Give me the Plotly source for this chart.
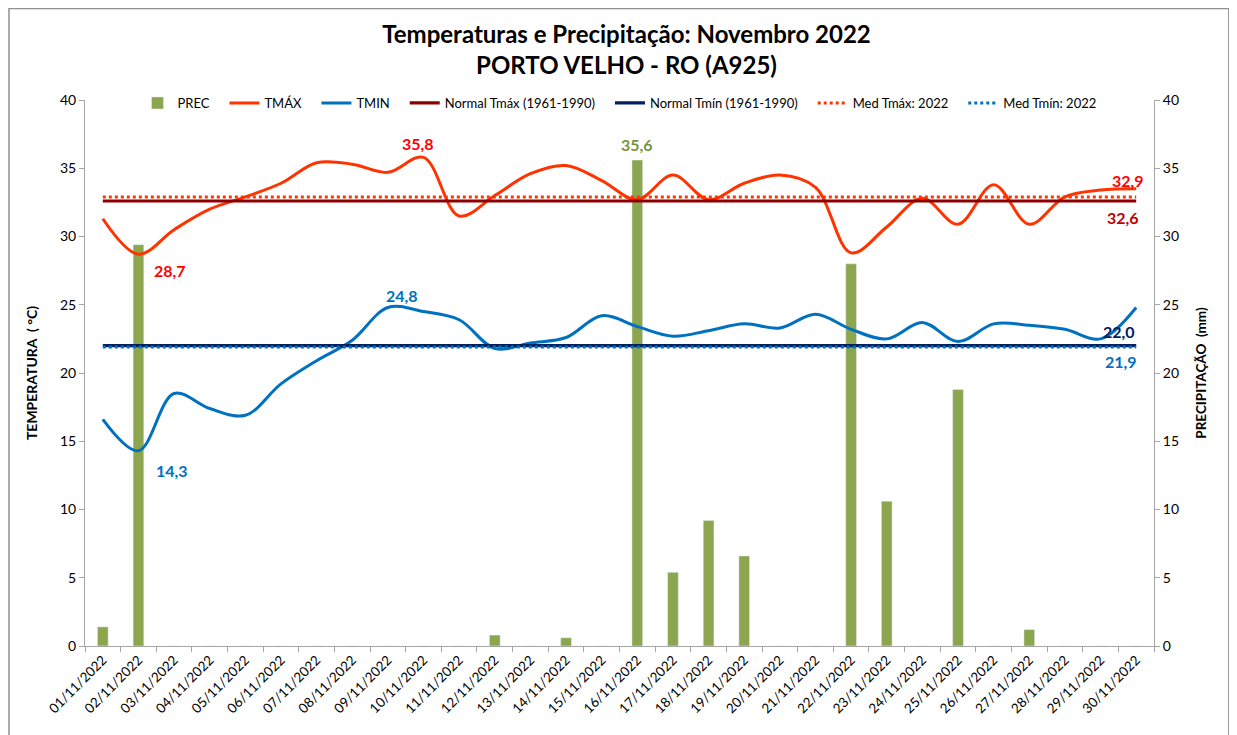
import plotly.graph_objects as go

dias = [f"{d:02d}/11/2022" for d in range(1, 31)]

tmax = [31.3, 28.7, 30.5, 32.0, 32.9, 33.9, 35.4, 35.3, 34.7, 35.8,
        31.5, 33.0, 34.6, 35.2, 34.1, 32.7, 34.5, 32.7, 33.9, 34.5,
        33.6, 28.8, 30.7, 32.8, 30.9, 33.8, 30.9, 32.9, 33.4, 33.5]
tmin = [16.6, 14.3, 18.5, 17.4, 16.9, 19.2, 20.9, 22.4, 24.8, 24.5,
        23.9, 21.8, 22.2, 22.6, 24.2, 23.4, 22.7, 23.1, 23.6, 23.3,
        24.3, 23.2, 22.5, 23.7, 22.3, 23.6, 23.5, 23.2, 22.5, 24.8]
prec = [1.4, 29.4, 0, 0, 0, 0, 0, 0, 0, 0,
        0, 0.8, 0, 0.6, 0, 35.6, 5.4, 9.2, 6.6, 0,
        0, 28.0, 10.6, 0, 18.8, 0, 1.2, 0, 0, 0]
normal_tmax = 32.6
normal_tmin = 22.0
med_tmax = 32.9
med_tmin = 21.9

C_PREC = "#8BA64E"
C_TMAX = "#FF3300"
C_TMIN = "#0070C0"
C_NTMAX = "#8B0000"
C_NTMIN = "#002060"
FONT = "Lato"
PAD = "\u00a0" * 3

fig = go.Figure()
fig.add_trace(go.Bar(x=dias, y=prec, name="PREC" + PAD, marker_color=C_PREC,
                     width=0.3, yaxis="y"))
fig.add_trace(go.Scatter(x=dias, y=tmax, name="TMÁX" + PAD, mode="lines",
                         line=dict(color=C_TMAX, width=3, shape="spline"), yaxis="y2"))
fig.add_trace(go.Scatter(x=dias, y=tmin, name="TMIN" + PAD, mode="lines",
                         line=dict(color=C_TMIN, width=3, shape="spline"), yaxis="y2"))
fig.add_trace(go.Scatter(x=dias, y=[normal_tmax] * len(dias), name="Normal Tmáx (1961-1990)" + PAD,
                         mode="lines", line=dict(color=C_NTMAX, width=3.2), yaxis="y2"))
fig.add_trace(go.Scatter(x=dias, y=[normal_tmin] * len(dias), name="Normal Tmín (1961-1990)" + PAD,
                         mode="lines", line=dict(color=C_NTMIN, width=3.2), yaxis="y2"))
fig.add_trace(go.Scatter(x=dias, y=[med_tmax] * len(dias), name="Med Tmáx: 2022" + PAD,
                         mode="lines", line=dict(color=C_TMAX, width=3, dash="dot"), yaxis="y2"))
fig.add_trace(go.Scatter(x=dias, y=[med_tmin] * len(dias), name="Med Tmín: 2022",
                         mode="lines", line=dict(color=C_TMIN, width=3, dash="dot"), yaxis="y2"))

def fmt(v):
    return f"{v:.1f}".replace(".", ",")

i_max = tmax.index(max(tmax))
i_min_tmax = tmax.index(min(tmax))
i_min = tmin.index(min(tmin))
i_tmin_max = tmin.index(max(tmin[:15]))
i_prec = prec.index(max(prec))
last = dias[-1]

ann = [
    dict(x=dias[i_max], y=tmax[i_max], text=fmt(tmax[i_max]), color="#FF0000", xs=-6, ys=14),
    dict(x=dias[i_min_tmax], y=tmax[i_min_tmax], text=fmt(tmax[i_min_tmax]), color="#FF0000", xs=32, ys=-16),
    dict(x=dias[i_min], y=tmin[i_min], text=fmt(tmin[i_min]), color=C_TMIN, xs=34, ys=-20),
    dict(x=dias[i_tmin_max], y=tmin[i_tmin_max], text=fmt(tmin[i_tmin_max]), color=C_TMIN, xs=14, ys=12),
    dict(x=dias[i_prec], y=prec[i_prec], text=fmt(prec[i_prec]), color="#77933C", xs=0, ys=16),
    dict(x=last, y=med_tmax, text=fmt(med_tmax), color="#FF0000", xs=-8, ys=16),
    dict(x=last, y=normal_tmax, text=fmt(normal_tmax), color="#C00000", xs=-13, ys=-16),
    dict(x=last, y=normal_tmin, text=fmt(normal_tmin), color=C_NTMIN, xs=-17, ys=14),
    dict(x=last, y=med_tmin, text=fmt(med_tmin), color=C_TMIN, xs=-15, ys=-14),
]
for a in ann:
    fig.add_annotation(x=a["x"], y=a["y"], xref="x", yref="y2", text=f"<b>{a['text']}</b>",
                       showarrow=False, xshift=a["xs"], yshift=a["ys"],
                       font=dict(family=FONT, size=16, color=a["color"]))

axis_col = "#A6A6A6"
fig.update_layout(
    width=1237, height=735,
    margin=dict(l=77, r=91, t=92, b=97),
    paper_bgcolor="white", plot_bgcolor="white",
    font=dict(family=FONT, size=13, color="#000000"),
    title=dict(text="<b>Temperaturas e Precipitação: Novembro 2022<br>PORTO VELHO - RO (A925)</b>",
               x=0.5, xanchor="center", y=0.953, yanchor="middle",
               font=dict(family=FONT, size=24, color="#000000")),
    showlegend=True,
    legend=dict(orientation="h", x=0.5, xanchor="center", y=0.9945, yanchor="middle",
                font=dict(family=FONT, size=13), bgcolor="rgba(0,0,0,0)",
                itemwidth=30, tracegroupgap=0),
    xaxis=dict(type="category", tickangle=-45, tickson="boundaries", ticks="outside",
               ticklen=5, tickcolor=axis_col, showline=True, linecolor=axis_col,
               showgrid=False, tickfont=dict(size=13.5), range=[-0.5, 29.5]),
    yaxis=dict(side="right", range=[0, 40], dtick=5, showgrid=False, zeroline=False,
               showline=True, linecolor=axis_col, ticks="outside", ticklen=5, tickcolor=axis_col,
               tickfont=dict(size=14),
               title=dict(text="<b>PRECIPITAÇÃO  (mm)</b>", font=dict(size=13.5), standoff=18)),
    yaxis2=dict(side="left", overlaying="y", range=[0, 40], dtick=5, showgrid=False, zeroline=False,
                showline=True, linecolor=axis_col, ticks="outside", ticklen=5, tickcolor=axis_col,
                tickfont=dict(size=14),
                title=dict(text="<b>TEMPERATURA  ( °C)</b>", font=dict(size=14), standoff=19)),
    shapes=[dict(type="rect", xref="paper", yref="paper", x0=-0.0711, x1=1.070,
                 y0=-0.25, y1=1.1676, line=dict(color="#909090", width=1.5), layer="below")],
)

fig.write_html("out.html")
